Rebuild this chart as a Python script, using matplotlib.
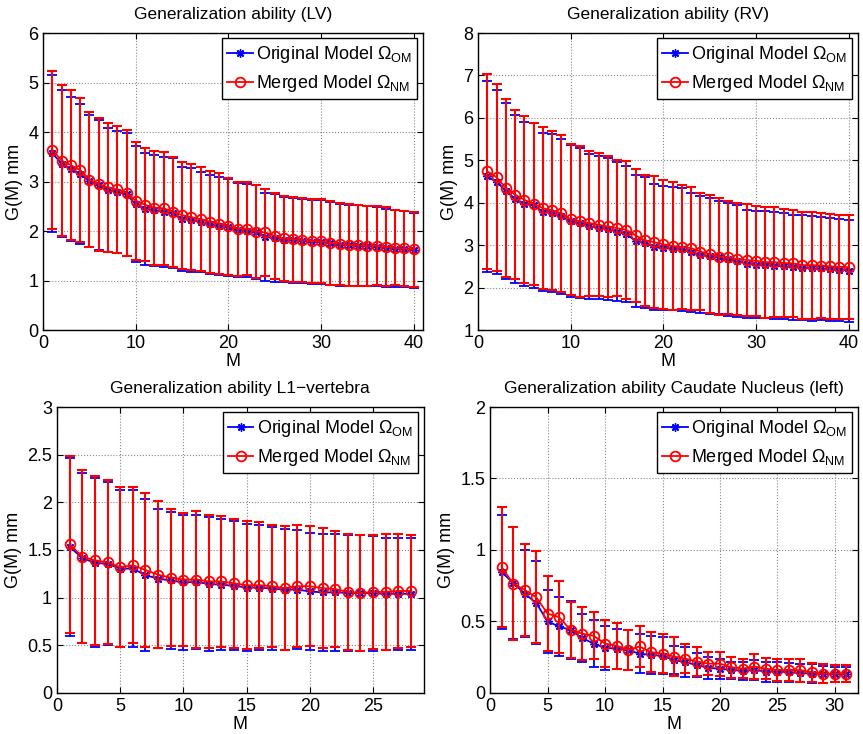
import numpy as np
import matplotlib
matplotlib.use("Agg")
import matplotlib.pyplot as plt
from matplotlib.ticker import FuncFormatter

plt.rcParams['font.family'] = ['Liberation Sans', 'DejaVu Sans']
plt.rcParams['mathtext.fontset'] = 'custom'
plt.rcParams['mathtext.rm'] = 'Liberation Sans'
plt.rcParams['mathtext.it'] = 'Liberation Sans:italic'

# ---- LV ----
lv_om_mean = [3.57, 3.36, 3.25, 3.15, 3.01, 2.93, 2.83, 2.79, 2.74, 2.54,
              2.45, 2.42, 2.39, 2.36, 2.25, 2.23, 2.18, 2.14, 2.11, 2.08,
              2.02, 2.01, 1.98, 1.88, 1.86, 1.82, 1.81, 1.80, 1.78, 1.78,
              1.75, 1.72, 1.71, 1.70, 1.69, 1.68, 1.66, 1.64, 1.63, 1.61]
lv_om_std = [1.59, 1.49, 1.45, 1.41, 1.34, 1.31, 1.25, 1.24, 1.24, 1.17,
             1.13, 1.12, 1.11, 1.11, 1.05, 1.05, 1.01, 1.00, 0.99, 0.98,
             0.95, 0.94, 0.94, 0.89, 0.89, 0.86, 0.86, 0.85, 0.85, 0.85,
             0.84, 0.83, 0.82, 0.82, 0.81, 0.80, 0.79, 0.78, 0.77, 0.76]
lv_nm_mean = [3.64, 3.42, 3.33, 3.23, 3.04, 2.94, 2.88, 2.84, 2.77, 2.61,
              2.53, 2.47, 2.46, 2.39, 2.32, 2.28, 2.24, 2.19, 2.15, 2.10,
              2.05, 2.05, 1.99, 1.97, 1.90, 1.85, 1.83, 1.82, 1.80, 1.79,
              1.76, 1.74, 1.72, 1.71, 1.70, 1.70, 1.68, 1.66, 1.65, 1.63]
lv_nm_std = [1.60, 1.53, 1.51, 1.46, 1.37, 1.34, 1.31, 1.29, 1.27, 1.19,
             1.14, 1.15, 1.14, 1.11, 1.08, 1.07, 1.05, 1.03, 1.02, 0.98,
             0.95, 0.94, 0.94, 0.88, 0.87, 0.86, 0.86, 0.85, 0.85, 0.85,
             0.85, 0.83, 0.83, 0.82, 0.81, 0.80, 0.80, 0.76, 0.76, 0.76]

# ---- RV ----
rv_om_mean = [4.62, 4.49, 4.28, 4.09, 3.97, 3.94, 3.79, 3.76, 3.68, 3.56,
              3.52, 3.44, 3.41, 3.38, 3.32, 3.26, 3.10, 3.06, 2.96, 2.93,
              2.92, 2.90, 2.83, 2.77, 2.74, 2.71, 2.67, 2.63, 2.56, 2.54,
              2.54, 2.52, 2.50, 2.48, 2.47, 2.45, 2.45, 2.43, 2.42, 2.40]
rv_om_std = [2.25, 2.16, 2.07, 1.98, 1.93, 1.94, 1.86, 1.86, 1.82, 1.79,
             1.76, 1.70, 1.69, 1.67, 1.63, 1.61, 1.55, 1.54, 1.49, 1.47,
             1.46, 1.45, 1.41, 1.38, 1.36, 1.34, 1.33, 1.32, 1.27, 1.26,
             1.26, 1.26, 1.25, 1.24, 1.23, 1.23, 1.22, 1.22, 1.20, 1.20]
rv_nm_mean = [4.74, 4.60, 4.34, 4.19, 4.07, 3.97, 3.87, 3.82, 3.75, 3.61,
              3.56, 3.52, 3.48, 3.44, 3.40, 3.36, 3.23, 3.11, 3.07, 3.02,
              2.98, 2.95, 2.93, 2.85, 2.79, 2.73, 2.71, 2.67, 2.65, 2.63,
              2.60, 2.60, 2.58, 2.57, 2.53, 2.53, 2.52, 2.50, 2.49, 2.48]
rv_nm_std = [2.30, 2.21, 2.10, 1.99, 1.97, 1.92, 1.91, 1.88, 1.85, 1.78,
             1.78, 1.71, 1.69, 1.67, 1.61, 1.62, 1.56, 1.54, 1.55, 1.52,
             1.50, 1.46, 1.45, 1.39, 1.40, 1.37, 1.34, 1.32, 1.31, 1.30,
             1.31, 1.30, 1.28, 1.26, 1.26, 1.26, 1.23, 1.24, 1.23, 1.23]

# ---- L1-vertebra ----
l1_om_mean = [1.535, 1.415, 1.365, 1.355, 1.305, 1.305, 1.235, 1.20, 1.18, 1.16,
              1.165, 1.145, 1.135, 1.125, 1.105, 1.105, 1.095, 1.085, 1.085, 1.065,
              1.055, 1.055, 1.05, 1.05, 1.045, 1.04, 1.04, 1.04]
l1_om_std = [0.935, 0.895, 0.885, 0.855, 0.825, 0.825, 0.795, 0.73, 0.72, 0.71,
             0.705, 0.705, 0.685, 0.675, 0.665, 0.655, 0.645, 0.635, 0.625, 0.615,
             0.615, 0.615, 0.61, 0.61, 0.605, 0.59, 0.59, 0.59]
l1_nm_mean = [1.56, 1.43, 1.39, 1.37, 1.32, 1.34, 1.29, 1.24, 1.21, 1.19,
              1.19, 1.17, 1.17, 1.15, 1.13, 1.13, 1.12, 1.10, 1.12, 1.12,
              1.10, 1.09, 1.06, 1.05, 1.06, 1.06, 1.07, 1.07]
l1_nm_std = [0.93, 0.91, 0.89, 0.86, 0.84, 0.82, 0.81, 0.77, 0.72, 0.70,
             0.72, 0.70, 0.69, 0.68, 0.67, 0.66, 0.64, 0.65, 0.64, 0.63,
             0.63, 0.61, 0.61, 0.61, 0.60, 0.61, 0.60, 0.59]

# ---- Caudate Nucleus (left) ----
cn_om_mean = [0.845, 0.77, 0.695, 0.63, 0.50, 0.465, 0.44, 0.385, 0.345, 0.315,
              0.31, 0.30, 0.275, 0.265, 0.26, 0.23, 0.215, 0.195, 0.175, 0.17,
              0.16, 0.155, 0.16, 0.15, 0.15, 0.145, 0.14, 0.135, 0.13, 0.13, 0.13]
cn_om_std = [0.40, 0.39, 0.305, 0.29, 0.22, 0.205, 0.20, 0.165, 0.165, 0.155,
             0.14, 0.14, 0.135, 0.135, 0.13, 0.10, 0.105, 0.085, 0.075, 0.07,
             0.06, 0.065, 0.07, 0.07, 0.07, 0.065, 0.06, 0.065, 0.06, 0.05, 0.05]
cn_nm_mean = [0.88, 0.765, 0.72, 0.67, 0.555, 0.53, 0.44, 0.415, 0.40, 0.345,
              0.33, 0.30, 0.325, 0.285, 0.275, 0.255, 0.24, 0.22, 0.205, 0.205,
              0.18, 0.17, 0.185, 0.17, 0.16, 0.16, 0.16, 0.145, 0.135, 0.135, 0.135]
cn_nm_std = [0.42, 0.395, 0.32, 0.32, 0.26, 0.25, 0.195, 0.185, 0.165, 0.165,
             0.16, 0.14, 0.145, 0.14, 0.135, 0.135, 0.10, 0.10, 0.08, 0.085,
             0.075, 0.065, 0.085, 0.075, 0.075, 0.075, 0.08, 0.065, 0.065, 0.06, 0.06]

panels = [
    dict(title="Generalization ability (LV)", om=(lv_om_mean, lv_om_std),
         nm=(lv_nm_mean, lv_nm_std), xlim=(0, 41), xticks=[0, 10, 20, 30, 40],
         ylim=(0, 6), yticks=[0, 1, 2, 3, 4, 5, 6],
         rect=[0.050, 0.5504, 0.440, 0.4046]),
    dict(title="Generalization ability (RV)", om=(rv_om_mean, rv_om_std),
         nm=(rv_nm_mean, rv_nm_std), xlim=(0, 41), xticks=[0, 10, 20, 30, 40],
         ylim=(1, 8), yticks=[1, 2, 3, 4, 5, 6, 7, 8],
         rect=[0.554, 0.5504, 0.440, 0.4046]),
    dict(title="Generalization ability L1\u2212vertebra", om=(l1_om_mean, l1_om_std),
         nm=(l1_nm_mean, l1_nm_std), xlim=(0, 29), xticks=[0, 5, 10, 15, 20, 25],
         ylim=(0, 3), yticks=[0, 0.5, 1, 1.5, 2, 2.5, 3],
         rect=[0.066, 0.0559, 0.425, 0.3896]),
    dict(title="Generalization ability Caudate Nucleus (left)", om=(cn_om_mean, cn_om_std),
         nm=(cn_nm_mean, cn_nm_std), xlim=(0, 32), xticks=[0, 5, 10, 15, 20, 25, 30],
         ylim=(0, 2), yticks=[0, 0.5, 1, 1.5, 2],
         rect=[0.568, 0.0559, 0.426, 0.3896]),
]

fig = plt.figure(figsize=(8.63, 7.34), dpi=100)

for p in panels:
    ax = fig.add_axes(p["rect"])
    om_m, om_s = p["om"]
    nm_m, nm_s = p["nm"]
    x = np.arange(1, len(om_m) + 1)

    ax.errorbar(x, om_m, yerr=om_s, fmt='none', ecolor='blue', elinewidth=1.3,
                capsize=3.5, capthick=1.3, zorder=2)
    ax.plot(x, om_m, '-', color='blue', marker=(8, 2, 0), markersize=6,
            markeredgewidth=1.0, linewidth=1.3,
            label=r'Original Model $\Omega_{\mathrm{OM}}$', zorder=3)
    ax.errorbar(x, nm_m, yerr=nm_s, fmt='none', ecolor='red', elinewidth=1.5,
                capsize=3.5, capthick=1.5, zorder=4)
    ax.plot(x, nm_m, '-', color='red', marker='o', markersize=7, linewidth=1.3,
            markerfacecolor='none', markeredgewidth=1.3,
            label=r'Merged Model $\Omega_{\mathrm{NM}}$', zorder=5)

    ax.set_xlim(p["xlim"])
    ax.set_ylim(p["ylim"])
    ax.set_xticks(p["xticks"])
    ax.set_yticks(p["yticks"])
    ax.yaxis.set_major_formatter(FuncFormatter(lambda v, pos: '%g' % v))
    ax.tick_params(direction='in', top=True, right=True, labelsize=13, length=4)
    ax.grid(True, linestyle=':', color='#888888', linewidth=0.8)
    ax.set_axisbelow(True)
    for sp in ax.spines.values():
        sp.set_linewidth(1.0)

    ax.set_title(p["title"], fontsize=12.5, pad=10)
    ax.set_xlabel("M", fontsize=13, labelpad=1)
    ax.set_ylabel("G(M) mm", fontsize=13, labelpad=4)

    leg = ax.legend(loc='upper right', fontsize=13, fancybox=False, framealpha=1,
                    edgecolor='black', borderaxespad=0.3, handlelength=1.4,
                    handletextpad=0.2, borderpad=0.3, labelspacing=0.45)
    leg.get_frame().set_linewidth(1.0)

fig.savefig("out.png", dpi=100)
